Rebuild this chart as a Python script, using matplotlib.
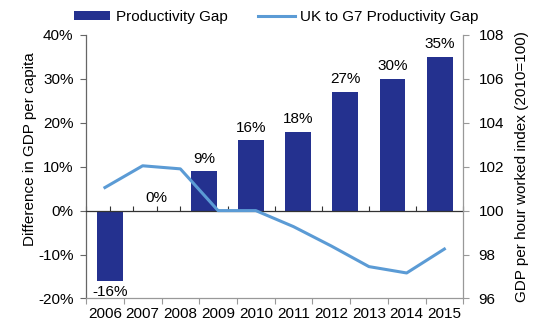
import matplotlib
matplotlib.use("Agg")
import matplotlib.pyplot as plt
import numpy as np
from matplotlib.patches import Patch
from matplotlib.lines import Line2D

plt.rcParams["font.family"] = ["Liberation Sans", "DejaVu Sans"]

# -- Data -----------------------------------------------------------------
YEARS = ["2006", "2007", "2008", "2009", "2010",
         "2011", "2012", "2013", "2014", "2015"]
# productivity gap bars (8 values, % difference in GDP per capita)
GAP = [-16, 0, 9, 16, 18, 27, 30, 35]
# UK to G7 productivity gap, GDP per hour worked index (2010=100)
UK_G7 = [101.05, 102.04, 101.9, 100.0, 100.0,
         99.27, 98.39, 97.45, 97.16, 98.25]

C_BAR = "#24318F"
C_LINE = "#5B9BD5"

FS = 11
rect = [0.160, 0.076, 0.701, 0.816]

fig = plt.figure(figsize=(5.38, 3.23), dpi=100)

# -- Bars (left axis) -----------------------------------------------------
ax = fig.add_axes(rect)
xb = np.arange(len(GAP)) + 0.5
ax.bar(xb, GAP, 0.55, color=C_BAR, zorder=2)
for x, v in zip(xb, GAP):
    if v < 0:
        ax.annotate(f"{v}%", (x, v), xytext=(0, -3), textcoords="offset points",
                    ha="center", va="top", fontsize=FS)
    else:
        ax.annotate(f"{v}%", (x, v), xytext=(0, 4), textcoords="offset points",
                    ha="center", va="bottom", fontsize=FS)

ax.set_xlim(0, len(GAP))
ax.set_ylim(-20, 40)
ax.set_yticks(np.arange(-20, 41, 10))
ax.yaxis.set_major_formatter(plt.FuncFormatter(lambda v, _: f"{v:.0f}%"))
ax.tick_params(axis="y", direction="out", length=4, width=0.8,
               color="#666666", labelsize=FS, pad=5)

# zero line carries the bar-category ticks, pointing up
ax.spines["bottom"].set_position(("data", 0))
ax.spines["bottom"].set_color("#333333")
ax.spines["bottom"].set_linewidth(0.9)
ax.set_xticks(np.arange(0, len(GAP) + 0.01, 0.5))
ax.set_xticklabels([])
ax.tick_params(axis="x", direction="in", length=3.5, width=0.8, color="#333333")
for s in ("top", "right"):
    ax.spines[s].set_visible(False)
ax.spines["left"].set_color("#666666")
ax.spines["left"].set_linewidth(0.9)

ax.set_ylabel("Difference in GDP per capita", fontsize=FS)
ax.yaxis.set_label_coords(-0.13, 0.567)
ax.yaxis.label.set_va("bottom")

# -- Line (right axis, year labels) ---------------------------------------
ax2 = fig.add_axes(rect, facecolor="none")
xl = np.arange(len(YEARS)) + 0.5
ax2.plot(xl, UK_G7, color=C_LINE, linewidth=2.2, zorder=3)
ax2.set_xlim(0, len(YEARS))
ax2.set_ylim(96, 108)
ax2.set_yticks(np.arange(96, 109, 2))
ax2.yaxis.tick_right()
ax2.yaxis.set_label_position("right")
ax2.tick_params(axis="y", direction="out", length=4, width=0.8,
                color="#999999", labelsize=FS, pad=7)
ax2.set_xticks(xl)
ax2.set_xticklabels(YEARS)
ax2.set_xticks(np.arange(0, len(YEARS) + 0.01, 1), minor=True)
ax2.tick_params(axis="x", which="major", length=0, labelsize=FS, pad=6)
ax2.tick_params(axis="x", which="minor", direction="out", length=4,
                width=0.8, color="#999999")
for s in ("top", "left"):
    ax2.spines[s].set_visible(False)
for s in ("right", "bottom"):
    ax2.spines[s].set_color("#999999")
    ax2.spines[s].set_linewidth(0.9)
ax2.set_ylabel("GDP per hour worked index (2010=100)", fontsize=FS,
               rotation=90, labelpad=8)

# -- Legend ---------------------------------------------------------------
handles = [
    Patch(facecolor=C_BAR, label="Productivity Gap"),
    Line2D([0], [0], color=C_LINE, linewidth=2.2,
           label="UK to G7 Productivity Gap"),
]
fig.legend(handles=handles, loc="center", ncol=2, frameon=False,
           fontsize=FS, bbox_to_anchor=(0.513, 0.947), handlelength=2.4,
           handleheight=0.5, handletextpad=0.35, columnspacing=2.0)

fig.savefig("out.png", dpi=100, facecolor="white")
